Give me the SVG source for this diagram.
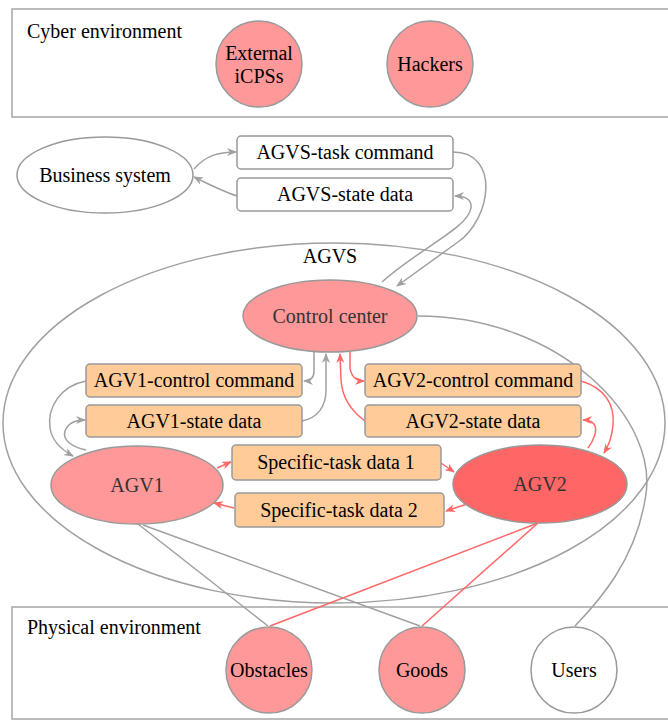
<svg xmlns="http://www.w3.org/2000/svg" width="668" height="722" viewBox="0 0 668 722">
<style>
  .env{fill:#fff;stroke:#a6a6a6;stroke-width:1.5}
  .t{font-family:"Liberation Serif","Times New Roman",serif;font-size:20px;fill:#000}
  .tc{font-family:"Liberation Serif","Times New Roman",serif;font-size:20px;fill:#000;text-anchor:middle}
  .td{font-family:"Liberation Serif","Times New Roman",serif;font-size:20px;fill:#333;text-anchor:middle}
  .pink{fill:#ff9999;stroke:#999;stroke-width:1.5}
  .red{fill:#ff6666;stroke:#999;stroke-width:1.5}
  .white{fill:#fff;stroke:#999;stroke-width:1.5}
  .box{fill:#fff;stroke:#999;stroke-width:1.5}
  .obox{fill:#ffcc99;stroke:#999;stroke-width:1.5}
  .g{fill:none;stroke:#a0a0a0;stroke-width:1.5}
  .r{fill:none;stroke:#ff6666;stroke-width:1.5}
  .ga{marker-end:url(#ag)}
  .ra{marker-end:url(#ar)}
</style>
<defs>
  <marker id="ag" viewBox="0 0 10 8" refX="9" refY="4" markerWidth="10" markerHeight="8" markerUnits="userSpaceOnUse" orient="auto">
    <path d="M0,0 L10,4 L0,8 L3,4 Z" fill="#a0a0a0"/>
  </marker>
  <marker id="ar" viewBox="0 0 10 8" refX="9" refY="4" markerWidth="10" markerHeight="8" markerUnits="userSpaceOnUse" orient="auto">
    <path d="M0,0 L10,4 L0,8 L3,4 Z" fill="#ff6666"/>
  </marker>
</defs>

<g id="cyber-environment">
  <rect class="env" x="12" y="9" width="670" height="108"/>
  <text class="t" x="27" y="38">Cyber environment</text>
</g>
<g id="external-icpss">
  <circle class="pink" cx="259" cy="64" r="43"/>
  <text class="tc" x="259" y="60">External</text>
  <text class="tc" x="259" y="83">iCPSs</text>
</g>
<g id="hackers">
  <circle class="pink" cx="430" cy="64" r="43"/>
  <text class="tc" x="430" y="71">Hackers</text>
</g>

<g id="physical-environment">
  <rect class="env" x="12" y="607" width="670" height="112"/>
  <text class="t" x="27" y="634">Physical environment</text>
</g>

<g id="agvs">
  <ellipse cx="334" cy="423" rx="331" ry="180" fill="none" stroke="#a0a0a0" stroke-width="1.5"/>
  <text class="tc" x="330" y="263">AGVS</text>
</g>

<g id="connectors">
  <!-- business system -->
  <path class="g ga" d="M194,169 C205,156 218,152 236,152"/>
  <path class="g ga" d="M237,196 C222,191 208,184 194,177"/>
  <!-- AGVS-task command to control center -->
  <path class="g ga" d="M453,152 C500,152 492,218 458,242 L397,286"/>
  <!-- control center to AGVS-state data -->
  <path class="g ga" d="M382,282 C420,248 468,228 471,208 C472,200 466,196 455,196"/>
  <!-- control center / AGV1 boxes -->
  <path class="g ga" d="M314,352 L314,371 Q314,381 304,381"/>
  <path class="g ga" d="M302,421 C318,418 326,406 326,390 L326,354"/>
  <path class="g ga" d="M86,381 C60,386 47,408 50,428 C52,442 62,450 73,456"/>
  <path class="g ga" d="M86,450 C72,447 62,440 65,431 C68,423 75,420 85,420"/>
  <!-- control center / AGV2 boxes -->
  <path class="r ra" d="M350,352 L350,368 Q352,381 364,381"/>
  <path class="r ra" d="M365,421 C350,410 342,396 341,380 L340,354"/>
  <path class="r ra" d="M581,381 C605,388 615,405 613,425 C612,438 609,445 604,453"/>
  <path class="r ra" d="M588,448 C594,440 597,431 595,426 C593,421 589,420 583,420"/>
  <!-- specific task data -->
  <path class="r ra" d="M217,468 L231,462"/>
  <path class="r ra" d="M441,463 L454,472"/>
  <path class="r ra" d="M467,504 L446,511"/>
  <path class="r ra" d="M234,508 L214,503"/>
  <!-- to physical environment -->
  <path class="g" d="M138,524 L268,626"/>
  <path class="g" d="M143,525 L420,626"/>
  <path class="r" d="M538,523 L270,626"/>
  <path class="r" d="M538,523 L422,626"/>
  <path class="g" d="M418,316 C560,316 662,420 645,500 C635,560 600,600 575,626"/>
</g>

<g id="business-system">
  <ellipse class="white" cx="105" cy="175" rx="88" ry="38"/>
  <text class="tc" x="105" y="182">Business system</text>
</g>
<g id="agvs-task-command">
  <rect class="box" x="237" y="136" width="216" height="33" rx="4"/>
  <text class="tc" x="345" y="159">AGVS-task command</text>
</g>
<g id="agvs-state-data">
  <rect class="box" x="237" y="178" width="216" height="33" rx="4"/>
  <text class="tc" x="345" y="201">AGVS-state data</text>
</g>
<g id="control-center">
  <ellipse class="pink" cx="330" cy="316" rx="87" ry="36"/>
  <text class="td" x="330" y="323">Control center</text>
</g>
<g id="agv1-control-command">
  <rect class="obox" x="86" y="364" width="216" height="33" rx="4"/>
  <text class="tc" x="194" y="387">AGV1-control command</text>
</g>
<g id="agv1-state-data">
  <rect class="obox" x="86" y="405" width="216" height="32" rx="4"/>
  <text class="tc" x="194" y="428">AGV1-state data</text>
</g>
<g id="agv2-control-command">
  <rect class="obox" x="365" y="364" width="216" height="33" rx="4"/>
  <text class="tc" x="473" y="387">AGV2-control command</text>
</g>
<g id="agv2-state-data">
  <rect class="obox" x="365" y="405" width="216" height="32" rx="4"/>
  <text class="tc" x="473" y="428">AGV2-state data</text>
</g>
<g id="specific-task-data-1">
  <rect class="obox" x="232" y="445" width="209" height="35" rx="4"/>
  <text class="tc" x="336" y="469">Specific-task data 1</text>
</g>
<g id="specific-task-data-2">
  <rect class="obox" x="235" y="493" width="209" height="34" rx="4"/>
  <text class="tc" x="339" y="517">Specific-task data 2</text>
</g>
<g id="agv1">
  <ellipse class="pink" cx="137" cy="485" rx="86" ry="39"/>
  <text class="td" x="137" y="492">AGV1</text>
</g>
<g id="agv2">
  <ellipse class="red" cx="540" cy="484" rx="87" ry="39"/>
  <text class="td" x="540" y="491">AGV2</text>
</g>
<g id="obstacles">
  <circle class="pink" cx="269" cy="670" r="43"/>
  <text class="tc" x="269" y="677">Obstacles</text>
</g>
<g id="goods">
  <circle class="pink" cx="422" cy="670" r="43"/>
  <text class="tc" x="422" y="677">Goods</text>
</g>
<g id="users">
  <circle class="white" cx="574" cy="670" r="43"/>
  <text class="tc" x="574" y="677">Users</text>
</g>
</svg>
